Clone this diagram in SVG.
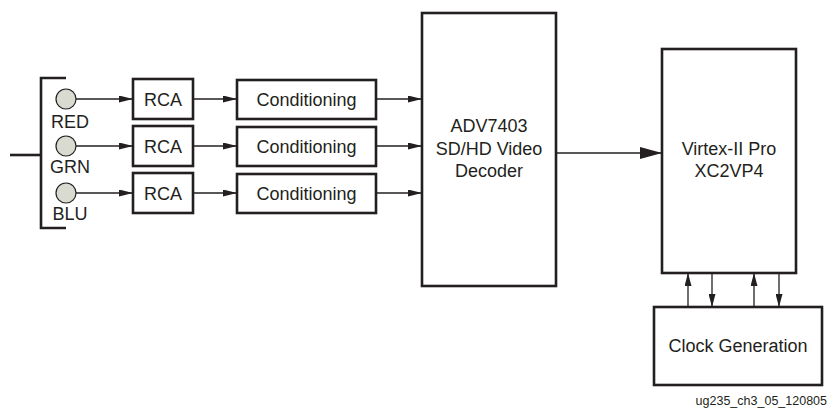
<svg xmlns="http://www.w3.org/2000/svg" width="828" height="408" viewBox="0 0 828 408">
<defs>
<style>
.box{fill:#fff;stroke:#231f20;stroke-width:2.6}
.t{font-family:"Liberation Sans",Arial,Helvetica,sans-serif;font-size:18px;fill:#231f20;text-anchor:middle}
.ln{fill:none;stroke:#231f20;stroke-width:1.3}
.br{fill:none;stroke:#231f20;stroke-width:2.6}
.jack{fill:#d9dbd1;stroke:#231f20;stroke-width:1.2}
.cap{font-family:"Liberation Sans",Arial,Helvetica,sans-serif;font-size:12.5px;fill:#231f20;text-anchor:end}
</style>
<marker id="a" markerUnits="userSpaceOnUse" markerWidth="14" markerHeight="7" refX="14" refY="3.5" orient="auto"><path d="M0,0 L14,3.5 L0,7 z" fill="#231f20"/></marker>
<marker id="ab" markerUnits="userSpaceOnUse" markerWidth="22" markerHeight="12" refX="22" refY="6" orient="auto"><path d="M0,0 L22,6 L0,12 z" fill="#231f20"/></marker>
<marker id="av" markerUnits="userSpaceOnUse" markerWidth="13" markerHeight="7" refX="13" refY="3.5" orient="auto"><path d="M0,0 L13,3.5 L0,7 z" fill="#231f20"/></marker>
</defs>
<rect width="828" height="408" fill="#fff"/>

<g id="input-bracket">
<path class="br" d="M66,78 H41 V228 H66"/>
<path class="br" d="M10,155 H41"/>
</g>

<g id="jack-red"><circle class="jack" cx="66" cy="99" r="10"/><text class="t" x="70" y="127.5">RED</text></g>
<g id="jack-grn"><circle class="jack" cx="66" cy="146" r="10"/><text class="t" x="70" y="173">GRN</text></g>
<g id="jack-blu"><circle class="jack" cx="66" cy="193" r="10"/><text class="t" x="70" y="219.5">BLU</text></g>

<g id="rca-1"><rect class="box" x="133" y="79" width="60" height="40"/><text class="t" x="163" y="105.5">RCA</text></g>
<g id="rca-2"><rect class="box" x="133" y="126" width="60" height="40"/><text class="t" x="163" y="152.5">RCA</text></g>
<g id="rca-3"><rect class="box" x="133" y="173" width="60" height="40"/><text class="t" x="163" y="199.5">RCA</text></g>

<g id="cond-1"><rect class="box" x="237" y="80" width="139" height="39"/><text class="t" x="306.5" y="105.5">Conditioning</text></g>
<g id="cond-2"><rect class="box" x="237" y="127" width="139" height="39"/><text class="t" x="306.5" y="152.5">Conditioning</text></g>
<g id="cond-3"><rect class="box" x="237" y="174" width="139" height="39"/><text class="t" x="306.5" y="199.5">Conditioning</text></g>

<g id="decoder"><rect class="box" x="422" y="13" width="134" height="273"/>
<text class="t" x="489" y="132">ADV7403</text>
<text class="t" x="489" y="155">SD/HD Video</text>
<text class="t" x="489" y="177">Decoder</text></g>

<g id="virtex"><rect class="box" x="662" y="49" width="134" height="224"/>
<text class="t" x="729" y="155">Virtex-II Pro</text>
<text class="t" x="729" y="177">XC2VP4</text></g>

<g id="clock"><rect class="box" x="654" y="307" width="168" height="78"/>
<text class="t" x="738" y="352">Clock Generation</text></g>

<g id="connectors">
<path class="ln" d="M76,99 H133" marker-end="url(#a)"/>
<path class="ln" d="M76,146 H133" marker-end="url(#a)"/>
<path class="ln" d="M76,193 H133" marker-end="url(#a)"/>
<path class="ln" d="M193,99 H237" marker-end="url(#a)"/>
<path class="ln" d="M193,146 H237" marker-end="url(#a)"/>
<path class="ln" d="M193,193 H237" marker-end="url(#a)"/>
<path class="ln" d="M376,99 H422" marker-end="url(#a)"/>
<path class="ln" d="M376,146 H422" marker-end="url(#a)"/>
<path class="ln" d="M376,193 H422" marker-end="url(#a)"/>
<path class="ln" d="M556,153 H662" marker-end="url(#ab)"/>
<path class="ln" d="M688,307 V273" marker-end="url(#av)"/>
<path class="ln" d="M712,273 V307" marker-end="url(#av)"/>
<path class="ln" d="M754,307 V273" marker-end="url(#av)"/>
<path class="ln" d="M779,273 V307" marker-end="url(#av)"/>
</g>

<text class="cap" x="827" y="405">ug235_ch3_05_120805</text>
</svg>
